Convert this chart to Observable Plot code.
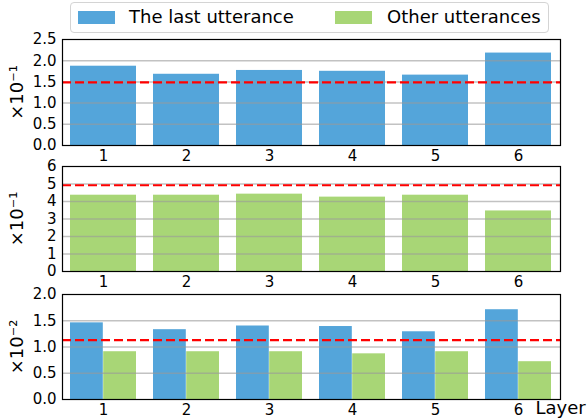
<!DOCTYPE html>
<html><head><meta charset="utf-8">
<script src="https://cdn.jsdelivr.net/npm/d3@7"></script>
<script src="https://cdn.jsdelivr.net/npm/@observablehq/plot@0.6"></script>
<style>
body{margin:0;background:#fff;font-family:"DejaVu Sans",sans-serif}
#wrap{position:relative;width:587px;height:420px;overflow:hidden;background:#fff}
.panel{position:absolute;left:0}
.panel svg{overflow:visible;background:transparent}
.legend{position:absolute;left:70px;top:2px;width:479px;height:31px;border:1px solid #d4d4d4;border-radius:4px;box-sizing:border-box;background:#fff}
.sw{position:absolute;top:8px;width:37px;height:13px}
.lt{position:absolute;top:3px;font-size:18px;line-height:22px;color:#000;white-space:nowrap}
</style></head>
<body><div id="wrap"></div>
<script>
const layers = [1, 2, 3, 4, 5, 6];
const seriesNames = ["The last utterance", "Other utterances"];
const colors = ["#54a5da", "#a8d676"];
// panel 1 (×10^-1): last utterance
const topLast = [1.87, 1.68, 1.77, 1.75, 1.66, 2.18];
const topRef = 1.49;
// panel 2 (×10^-1): other utterances
const midOther = [4.36, 4.36, 4.42, 4.25, 4.36, 3.46];
const midRef = 4.93;
// panel 3 (×10^-2): both
const botLast = [1.46, 1.33, 1.40, 1.39, 1.29, 1.71];
const botOther = [0.91, 0.91, 0.91, 0.87, 0.91, 0.72];
const botRef = 1.13;
const topTicks = [0, 0.5, 1, 1.5, 2, 2.5];
const midTicks = [0, 1, 2, 3, 4, 5, 6];
const botTicks = [0, 0.5, 1, 1.5, 2];
const yLabels = ["×10⁻¹", "×10⁻¹", "×10⁻²"];
const xLabel = "Layer";

const wrap = document.getElementById("wrap");

// legend
const leg = document.createElement("div");
leg.className = "legend";
const swX = [7, 264], txX = [58, 316];
seriesNames.forEach((n, i) => {
  const s = document.createElement("div");
  s.className = "sw"; s.style.left = swX[i] + "px"; s.style.background = colors[i];
  leg.appendChild(s);
  const t = document.createElement("div");
  t.className = "lt"; t.style.left = txX[i] + "px"; t.textContent = n;
  leg.appendChild(t);
});
wrap.appendChild(leg);

const W = 587, ML = 62, MR = 27, MT = 10, MB = 21;
const half = (W - ML - MR) / layers.length * 0.8 / 2;

function panel({series, ref, yMax, ticks, fmt, label, frameTop, frameH, showLayer}) {
  const marks = [];
  series.forEach(s => {
    const data = layers.map((l, i) => ({layer: l, value: s.values[i]}));
    marks.push(Plot.barY(data, {x: "layer", y: "value", fill: s.color,
      insetLeft: s.insetLeft || 0, insetRight: s.insetRight || 0}));
  });
  marks.push(Plot.ruleY(ticks.slice(1, -1), {stroke: "#999", strokeOpacity: 0.6, strokeWidth: 1.5}));
  marks.push(Plot.ruleY([ref], {stroke: "#ff0000", strokeWidth: 2.2, strokeDasharray: "9,4"}));
  marks.push(Plot.frame({stroke: "#000", strokeWidth: 1.2}));
  marks.push(Plot.text([label], {frameAnchor: "left", rotate: -90, dx: -45, textAnchor: "middle", lineAnchor: "middle", fontSize: 18}));
  if (showLayer) marks.push(Plot.text([xLabel], {frameAnchor: "bottom-right", dx: -25, dy: 9, textAnchor: "start", lineAnchor: "middle", fontSize: 18}));
  const chart = Plot.plot({
    width: W, height: MT + frameH + MB,
    marginLeft: ML, marginRight: MR, marginTop: MT, marginBottom: MB,
    style: {fontSize: "15px", fontFamily: "DejaVu Sans", background: "transparent", color: "#000", overflow: "visible"},
    x: {domain: layers, paddingInner: 0.2, paddingOuter: 0.1, tickSize: 0, tickPadding: 5, label: null},
    y: {domain: [0, yMax], ticks: ticks, tickFormat: fmt, tickSize: 0, tickPadding: 6, label: null},
    marks
  });
  const d = document.createElement("div");
  d.className = "panel"; d.style.top = (frameTop - MT) + "px";
  d.appendChild(chart);
  wrap.appendChild(d);
}

panel({series: [{values: topLast, color: colors[0]}], ref: topRef, yMax: 2.5, ticks: topTicks, fmt: d3.format(".1f"), label: yLabels[0], frameTop: 39, frameH: 106});
panel({series: [{values: midOther, color: colors[1]}], ref: midRef, yMax: 6, ticks: midTicks, fmt: d3.format("d"), label: yLabels[1], frameTop: 166, frameH: 105});
panel({series: [{values: botLast, color: colors[0], insetRight: half}, {values: botOther, color: colors[1], insetLeft: half}], ref: botRef, yMax: 2, ticks: botTicks, fmt: d3.format(".1f"), label: yLabels[2], frameTop: 294, frameH: 105, showLayer: true});
</script></body></html>
